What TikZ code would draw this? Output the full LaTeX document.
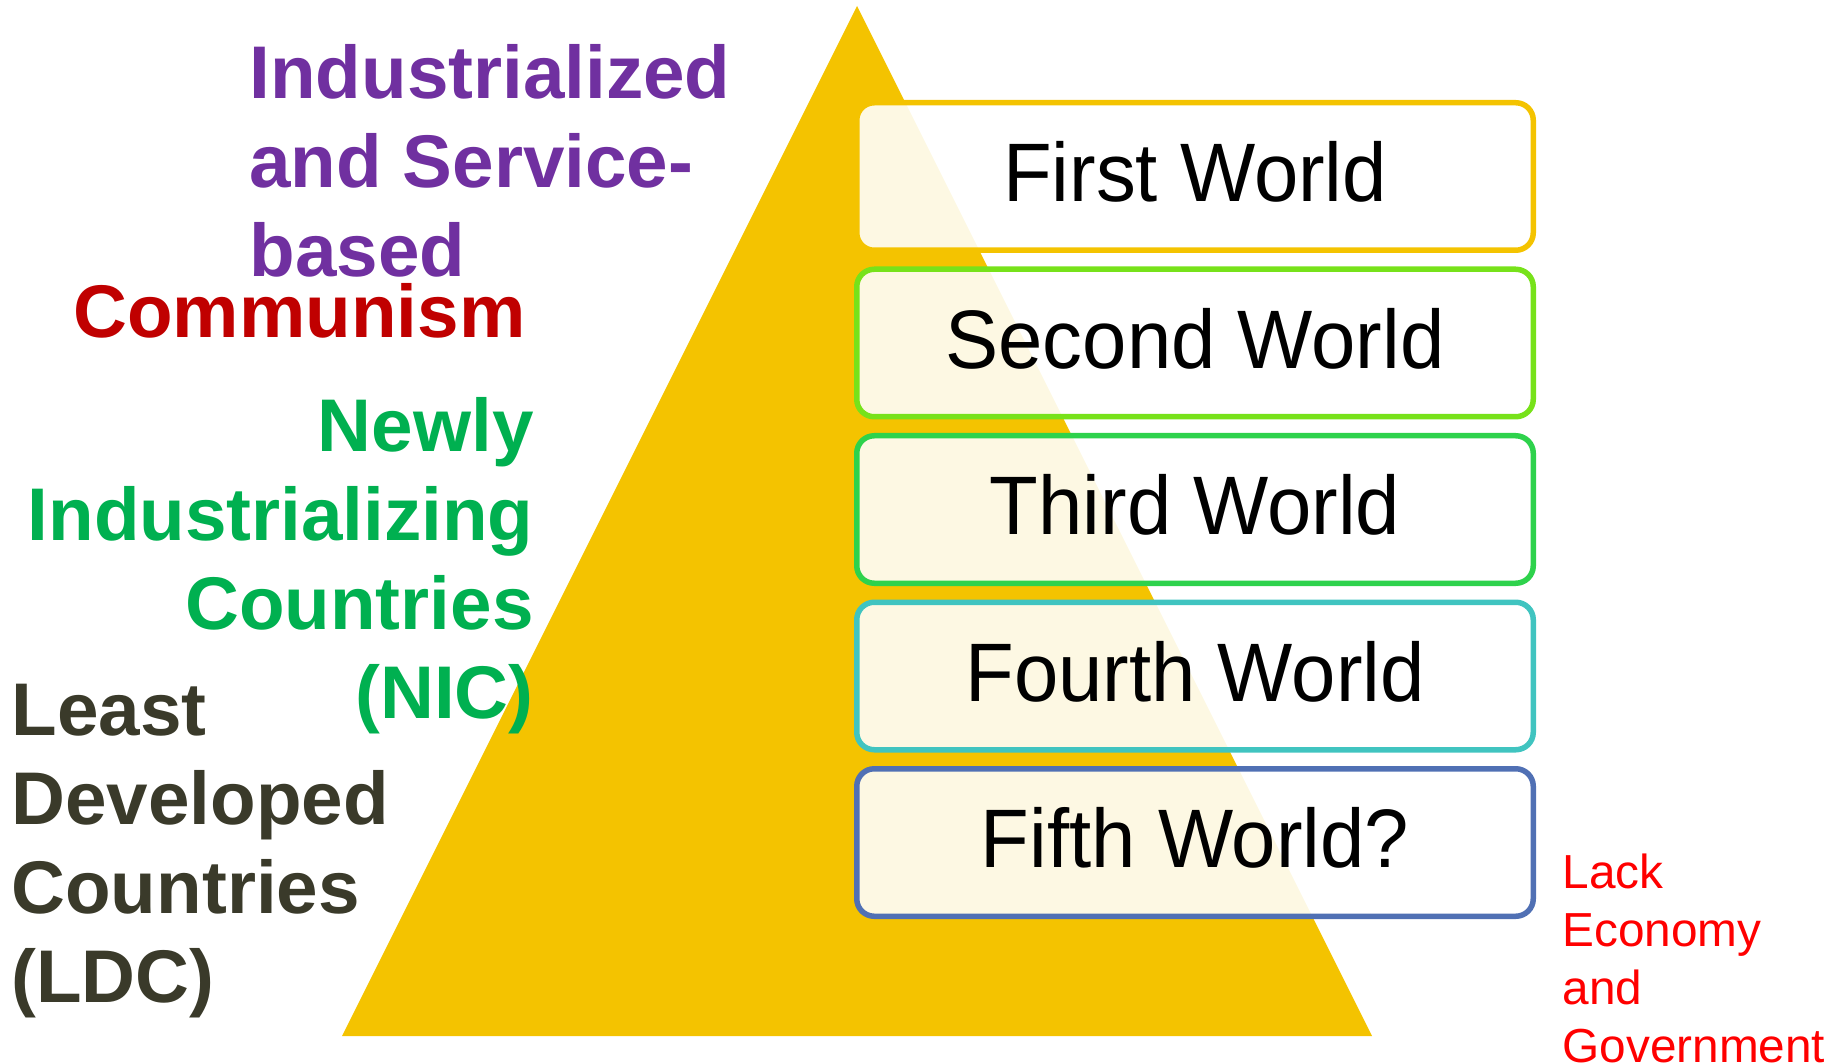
\documentclass[tikz,border=0pt]{standalone}
\usepackage{fontspec}
\setmainfont{Liberation Sans}
\newfontfamily\worldfont[FakeStretch=0.96]{Liberation Sans}
\usetikzlibrary{positioning}

\definecolor{pyramid}{HTML}{F4C300}
\definecolor{firstc}{HTML}{F4C300}
\definecolor{secondc}{HTML}{77E21A}
\definecolor{thirdc}{HTML}{2ED24C}
\definecolor{fourthc}{HTML}{40C4C0}
\definecolor{fifthc}{HTML}{5070B4}
\definecolor{indpurple}{HTML}{7030A0}
\definecolor{commred}{HTML}{C00000}
\definecolor{nicgreen}{HTML}{00B050}
\definecolor{ldcdark}{HTML}{3A3A2A}

\begin{document}
\begin{tikzpicture}[x=0.4pt,y=-0.4pt,
  world/.style={draw, line width=2.2pt, rounded corners=7pt, outer sep=0pt,
    fill=white, fill opacity=0.89, text opacity=1,
    minimum width=270.6pt, minimum height=59pt, text depth=4pt,
    font=\worldfont\fontsize{33.2}{40}\selectfont},
  sidetext/.style={inner sep=0pt, font=\bfseries\fontsize{29.85}{35.6}\selectfont}]
\useasboundingbox (0,0) rectangle (1843,1063);

% the pyramid
\fill[pyramid] (857,6) -- (1372,1036) -- (342,1036) -- cycle;

% the five worlds
\node[world, draw=firstc] (first) at (1195,176.5) {First World};
\node[world, draw=secondc, below=7.6pt of first] (second) {Second World};
\node[world, draw=thirdc, below=7.6pt of second] (third) {Third World};
\node[world, draw=fourthc, below=7.6pt of third] (fourth) {Fourth World};
\node[world, draw=fifthc, below=7.6pt of fourth] (fifth) {Fifth World?};

% descriptions on the left
\node[sidetext, text=indpurple, align=left, anchor=north west] (indus) at (249,44)
  {Industrialized\\and Service-\\based};
\node[sidetext, text=commred, anchor=base west] (comm) at (73,338) {Communism};
\node[sidetext, text=nicgreen, align=right, anchor=north east] (nic) at (534,397)
  {Newly\\Industrializing\\Countries\\(NIC)};
\node[sidetext, text=ldcdark, align=left, anchor=north west] (ldc) at (11,684)
  {Least\\Developed\\Countries\\(LDC)};

% note beside the fifth world
\node[inner sep=0pt, text=red, align=left, anchor=north west,
  font=\fontsize{19.1}{23.2}\selectfont] (lack) at (1562,853)
  {Lack\\Economy\\and\\Government};
\end{tikzpicture}
\end{document}
